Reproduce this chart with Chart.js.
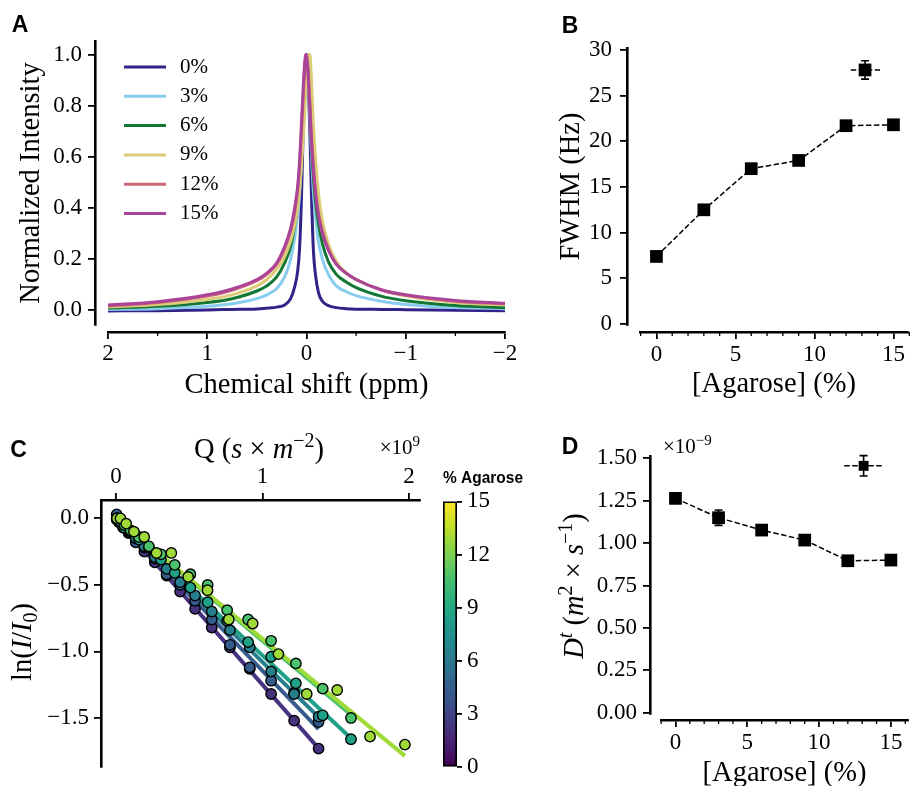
<!DOCTYPE html>
<html><head><meta charset="utf-8">
<script src="https://cdn.jsdelivr.net/npm/chart.js@4.4.1/dist/chart.umd.min.js"></script>
<style>
html,body{margin:0;padding:0;background:#fff;}
#wrap{position:relative;width:917px;height:786px;overflow:hidden;background:#fff;}
canvas{position:absolute;}
</style></head><body>
<div id="wrap">
<canvas id="cA" width="540" height="410" style="left:0px;top:0px"></canvas>
<canvas id="cB" width="377" height="410" style="left:540px;top:0px"></canvas>
<canvas id="cC" width="430" height="356" style="left:0px;top:430px"></canvas>
<canvas id="cCB" width="110" height="326" style="left:413px;top:460px"></canvas>
<canvas id="cD" width="377" height="356" style="left:540px;top:430px"></canvas>
</div>
<script>
const SERIF = "'Liberation Serif', 'Times New Roman', serif";
const SANS = "'Liberation Sans', Arial, sans-serif";

// ---------- Panel A: 1H spectra ----------
const ppm = [2, 1.5, 1.0, 0.75, 0.5, 0.4, 0.3, 0.22, 0.16, 0.12, 0.09, 0.07, 0.05, 0.035, 0.02, 0.01, 0, -0.01, -0.02, -0.035, -0.05, -0.07, -0.09, -0.12, -0.16, -0.22, -0.3, -0.4, -0.5, -0.75, -1.0, -1.5, -2];
const spectraLabels = ['0%', '3%', '6%', '9%', '12%', '15%'];
const int0  = [-0.003, -0.002, 0.001, 0.003, 0.005, 0.008, 0.012, 0.02, 0.045, 0.09, 0.15, 0.24, 0.45, 0.68, 0.87, 0.96, 1.0, 0.97, 0.88, 0.68, 0.45, 0.23, 0.14, 0.07, 0.035, 0.018, 0.01, 0.006, 0.004, 0.003, 0.002, 0.0, -0.002];
const int3  = [0.003, 0.006, 0.015, 0.025, 0.045, 0.06, 0.085, 0.13, 0.2, 0.28, 0.37, 0.45, 0.6, 0.74, 0.88, 0.96, 1.0, 0.97, 0.89, 0.75, 0.61, 0.46, 0.37, 0.27, 0.2, 0.14, 0.095, 0.072, 0.057, 0.035, 0.022, 0.01, 0.006];
const int6  = [0.008, 0.015, 0.03, 0.045, 0.075, 0.095, 0.13, 0.185, 0.25, 0.33, 0.42, 0.52, 0.65, 0.78, 0.9, 0.97, 1.0, 0.98, 0.91, 0.79, 0.66, 0.52, 0.43, 0.34, 0.26, 0.19, 0.14, 0.11, 0.088, 0.055, 0.037, 0.018, 0.01];
const int9  = [0.012, 0.022, 0.042, 0.06, 0.095, 0.12, 0.16, 0.21, 0.27, 0.33, 0.4, 0.47, 0.57, 0.66, 0.76, 0.83, 0.9, 0.95, 0.99, 1.0, 0.9, 0.72, 0.6, 0.46, 0.35, 0.26, 0.19, 0.145, 0.12, 0.08, 0.056, 0.03, 0.02];
const int12 = [0.016, 0.03, 0.055, 0.078, 0.115, 0.14, 0.18, 0.24, 0.31, 0.38, 0.47, 0.56, 0.7, 0.82, 0.93, 0.98, 1.0, 0.97, 0.92, 0.8, 0.68, 0.56, 0.47, 0.38, 0.31, 0.24, 0.18, 0.145, 0.12, 0.08, 0.058, 0.035, 0.025];
const int15 = [0.02, 0.033, 0.06, 0.083, 0.12, 0.145, 0.185, 0.25, 0.32, 0.4, 0.48, 0.58, 0.74, 0.86, 0.96, 1.0, 0.99, 0.95, 0.89, 0.78, 0.66, 0.55, 0.46, 0.37, 0.3, 0.235, 0.18, 0.145, 0.12, 0.08, 0.06, 0.038, 0.027];
const spectraColors = ['#332288', '#88CCEE', '#117733', '#DDCC77', '#CC6677', '#AA4499'];
const ticksAx = [2, 1, 0, -1, -2];
const minorAx = [1.5, 0.5, -0.5, -1.5];
const ticksAy = [0, 0.2, 0.4, 0.6, 0.8, 1.0];

// ---------- Panel B: FWHM ----------
const agarose = [0, 3, 6, 9, 12, 15];
const fwhm = [7.4, 12.5, 17.0, 17.9, 21.7, 21.8];
const fwhmErr = [0.15, 0.3, 0.25, 0.25, 0.3, 0.25];
const keyBLineX = [12.3, 14.15];
const keyBX = [13.2];
const keyBY = [27.8];
const keyBErr = [1.0];
const ticksBy = [0, 5, 10, 15, 20, 25, 30];
const ticksAgarose = [0, 5, 10, 15];
const minorAgarose = [-1, 1, 2, 3, 4, 6, 7, 8, 9, 11, 12, 13, 14, 16];

// ---------- Panel C: diffusion decays (Q in 1e9 s/m^2) ----------
const qGrid0 = [0.005, 0.022, 0.049, 0.086, 0.135, 0.194, 0.265, 0.346, 0.438, 0.540, 0.654, 0.778, 0.913, 1.059, 1.216, 1.383];
const qGrid9 = [0.006, 0.026, 0.057, 0.100, 0.157, 0.225, 0.307, 0.401, 0.508, 0.626, 0.759, 0.902, 1.059, 1.228, 1.411, 1.604];
const qGrid15 = [0.007, 0.031, 0.070, 0.123, 0.193, 0.277, 0.378, 0.493, 0.625, 0.770, 0.933, 1.109, 1.302, 1.510, 1.734, 1.972];
const lnI0  = [-0.01, -0.03, -0.06, -0.11, -0.17, -0.25, -0.33, -0.43, -0.55, -0.68, -0.82, -0.97, -1.13, -1.32, -1.52, -1.73];
const lnI3  = [0.03, -0.02, -0.06, -0.10, -0.18, -0.22, -0.30, -0.42, -0.50, -0.62, -0.76, -0.95, -1.12, -1.22, -1.31, -1.53];
const lnI6  = [0.0, -0.02, -0.07, -0.09, -0.15, -0.21, -0.29, -0.38, -0.48, -0.58, -0.70, -0.84, -0.97, -1.15, -1.32, -1.49];
const lnI9  = [0.0, -0.03, -0.07, -0.10, -0.16, -0.22, -0.31, -0.41, -0.52, -0.63, -0.77, -0.93, -1.04, -1.24, -1.48, -1.66];
const lnI12 = [0.0, -0.02, -0.05, -0.09, -0.14, -0.21, -0.27, -0.35, -0.42, -0.50, -0.69, -0.76, -0.92, -1.09, -1.28, -1.50];
const lnI15 = [0.0, 0.0, -0.04, -0.10, -0.14, -0.26, -0.26, -0.44, -0.54, -0.76, -0.79, -1.02, -1.32, -1.29, -1.64, -1.70];
const fitSlope = [-1.25, -1.145, -1.08, -1.03, -0.92, -0.905];
const seriesColorsC = ['#46327e', '#365c8d', '#277f8e', '#1fa187', '#4ac16d', '#a0da39'];
const ticksCx = [0, 1, 2];
const ticksCy = [0, -0.5, -1.0, -1.5];
const ticksCbar = [0, 3, 6, 9, 12, 15];
const viridis = ['#440154', '#482475', '#414487', '#355f8d', '#2a788e', '#21918c', '#22a884', '#44bf70', '#7ad151', '#bddf26', '#fde725'];

// ---------- Panel D: diffusion coefficients (1e-9 m^2/s) ----------
const diffCoef = [1.264, 1.150, 1.077, 1.018, 0.896, 0.900];
const diffErr = [0.012, 0.045, 0.02, 0.015, 0.015, 0.012];
const keyDLineX = [11.75, 14.37];
const keyDX = [13.1];
const keyDY = [1.456];
const keyDErr = [0.06];
const ticksDy = [0, 0.25, 0.5, 0.75, 1.0, 1.25, 1.5];

// ---------- Texts ----------
const titleQ = [{t: 'Q ('}, {t: 's', i: 1}, {t: ' × '}, {t: 'm', i: 1}, {t: '−2', sup: 1}, {t: ')'}];
const titleLn = [{t: 'ln('}, {t: 'I', i: 1}, {t: '/'}, {t: 'I', i: 1}, {t: '0', sub: 1}, {t: ')'}];
const titleDt = [{t: 'D', i: 1}, {t: 't', i: 1, sup: 1}, {t: ' ('}, {t: 'm', i: 1}, {t: '2', sup: 1}, {t: ' × '}, {t: 's', i: 1}, {t: '−1', sup: 1}, {t: ')'}];
const offsetC = [{t: '×10'}, {t: '9', sup: 1}];
const offsetD = [{t: '×10'}, {t: '−9', sup: 1}];

// ---------- helpers / plugins ----------
const minus = v => (v < 0 ? '−' + Math.abs(v) : String(v));
function drawRich(ctx, it) {
  const size = it.size, fam = it.family || SERIF, w = it.weight || '';
  const fontOf = s => `${s.i ? 'italic ' : ''}${w ? w + ' ' : ''}${(s.sup || s.sub) ? Math.round(size * 0.7) : size}px ${fam}`;
  ctx.save();
  ctx.translate(it.x, it.y);
  if (it.rot) ctx.rotate(it.rot);
  let total = 0;
  const ws = it.segs.map(s => { ctx.font = fontOf(s); const m = ctx.measureText(s.t).width; total += m; return m; });
  let cx = it.align === 'left' ? 0 : it.align === 'right' ? -total : -total / 2;
  ctx.fillStyle = '#000';
  ctx.textBaseline = it.baseline || 'alphabetic';
  ctx.textAlign = 'left';
  it.segs.forEach((s, k) => {
    ctx.font = fontOf(s);
    const dy = s.sup ? -size * 0.4 : (s.sub ? size * 0.22 : 0);
    ctx.fillText(s.t, cx, dy);
    cx += ws[k];
  });
  ctx.restore();
}
const spineShift = {
  id: 'spineShift',
  afterLayout(chart, args, o) {
    if (o.y) { const s = chart.scales.y; s.left -= o.y; s.right -= o.y; }
    if (o.x) { const s = chart.scales.x; s.top += o.x; s.bottom += o.x; }
  }
};
const minorTicks = {
  id: 'minorTicks',
  afterDraw(chart, args, o) {
    if (!o.values) return;
    const s = chart.scales.x, ctx = chart.ctx;
    ctx.save(); ctx.strokeStyle = '#000'; ctx.lineWidth = 1.3;
    o.values.forEach(v => {
      const px = s.getPixelForValue(v);
      ctx.beginPath(); ctx.moveTo(px, s.top); ctx.lineTo(px, s.top + o.len); ctx.stroke();
    });
    ctx.restore();
  }
};
const errorBars = {
  id: 'errorBars',
  afterDatasetsDraw(chart) {
    const ctx = chart.ctx, xs = chart.scales.x, ys = chart.scales.y;
    chart.data.datasets.forEach(ds => {
      if (!ds.errY) return;
      ctx.save(); ctx.strokeStyle = '#000'; ctx.lineWidth = 1.6;
      ds.data.forEach((p, j) => {
        const e = ds.errY[j]; if (!e) return;
        const x = xs.getPixelForValue(p.x), y1 = ys.getPixelForValue(p.y - e), y2 = ys.getPixelForValue(p.y + e);
        const c = 4;
        ctx.beginPath();
        ctx.moveTo(x, y1); ctx.lineTo(x, y2);
        ctx.moveTo(x - c, y1); ctx.lineTo(x + c, y1);
        ctx.moveTo(x - c, y2); ctx.lineTo(x + c, y2);
        ctx.stroke();
      });
      ctx.restore();
    });
  }
};
const richText = {
  id: 'richText',
  afterDraw(chart, args, o) { (o.items || []).forEach(it => drawRich(chart.ctx, it)); }
};
const legendA = {
  id: 'legendA',
  afterDraw(chart, args, o) {
    const ctx = chart.ctx;
    ctx.save();
    chart.data.datasets.forEach((ds, i) => {
      const y = o.y0 + i * o.dy;
      ctx.strokeStyle = ds.borderColor; ctx.lineWidth = 3;
      ctx.beginPath(); ctx.moveTo(o.x0, y); ctx.lineTo(o.x1, y); ctx.stroke();
      ctx.fillStyle = '#000'; ctx.font = `21px ${SERIF}`;
      ctx.textBaseline = 'middle'; ctx.textAlign = 'left';
      ctx.fillText(ds.label, o.tx, y);
    });
    ctx.restore();
  }
};
const common = { animation: false, responsive: false, events: [] };
const basePlugins = { legend: { display: false }, tooltip: { enabled: false } };
const tickFont = { family: SERIF, size: 23 };
const titleFont = { family: SERIF, size: 28.5 };
const grid = { drawOnChartArea: false, drawTicks: true, tickLength: 7, color: '#000', lineWidth: 1.8 };
const border = { display: true, color: '#000', width: 2.6 };
const setTicks = arr => (s => { s.ticks = arr.map(v => ({ value: v })); });
const letterSize = 23;

// ---------- Chart A ----------
const spectra = [int0, int3, int6, int9, int12, int15];
new Chart(document.getElementById('cA'), {
  type: 'line',
  data: {
    datasets: spectra.map((arr, i) => ({
      label: spectraLabels[i],
      data: ppm.map((x, j) => ({ x: x, y: arr[j] })),
      borderColor: spectraColors[i], borderWidth: 3, pointRadius: 0,
      cubicInterpolationMode: 'monotone', fill: false, order: 5 - i
    }))
  },
  options: {
    ...common,
    layout: { padding: { left: 0, top: 41, right: 35, bottom: 0 } },
    plugins: {
      ...basePlugins,
      spineShift: { y: 13, x: 7 },
      minorTicks: { values: minorAx, len: 4 },
      legendA: { x0: 124, x1: 166, tx: 180, y0: 67, dy: 29.3 },
      richText: { items: [{ segs: [{ t: 'A' }], x: 20, y: 26, size: letterSize, family: SANS, weight: 'bold', baseline: 'middle' }] }
    },
    scales: {
      x: {
        type: 'linear', reverse: true, min: -2, max: 2,
        afterFit(s) { s.height = 85; s.paddingLeft = 0; s.paddingRight = 0; },
        afterBuildTicks: setTicks(ticksAx),
        ticks: { callback: v => minus(v), font: tickFont, color: '#000', padding: 0.8, maxRotation: 0, autoSkip: false },
        grid: grid, border: border,
        title: { display: true, text: 'Chemical shift (ppm)', font: titleFont, color: '#000', padding: { top: 0, bottom: 13.9 } }
      },
      y: {
        type: 'linear', min: -0.058, max: 1.053,
        afterFit(s) { s.width = 108; },
        afterBuildTicks: setTicks(ticksAy),
        ticks: { callback: v => v.toFixed(1), font: tickFont, color: '#000', padding: 6, autoSkip: false },
        grid: grid, border: border,
        title: { display: true, text: 'Normalized Intensity', font: titleFont, color: '#000', padding: { top: 27.9, bottom: 0 } }
      }
    }
  },
  plugins: [spineShift, minorTicks, richText, legendA]
});

// ---------- Chart B ----------
new Chart(document.getElementById('cB'), {
  type: 'line',
  data: {
    datasets: [
      { data: agarose.map((x, i) => ({ x: x, y: fwhm[i] })), errY: fwhmErr, borderColor: '#000', borderWidth: 1.5, borderDash: [5.5, 2.5],
        pointStyle: 'rect', pointRadius: 9, pointBackgroundColor: '#000', pointBorderWidth: 0 },
      { data: keyBLineX.map(x => ({ x: x, y: keyBY[0] })), borderColor: '#000', borderWidth: 1.5, borderDash: [5.5, 2.5], pointRadius: 0 },
      { data: keyBX.map((x, i) => ({ x: x, y: keyBY[i] })), errY: keyBErr, showLine: false,
        pointStyle: 'rect', pointRadius: 9, pointBackgroundColor: '#000', pointBorderWidth: 0 }
    ]
  },
  options: {
    ...common,
    layout: { padding: { left: 0, top: 48, right: 0, bottom: 0 } },
    plugins: {
      ...basePlugins,
      spineShift: { y: 13, x: 7 },
      minorTicks: { values: minorAgarose, len: 4 },
      richText: { items: [{ segs: [{ t: 'B' }], x: 30, y: 27, size: letterSize, family: SANS, weight: 'bold', baseline: 'middle' }] }
    },
    scales: {
      x: {
        type: 'linear', min: -1.04, max: 15.92,
        afterFit(s) { s.height = 85; s.paddingLeft = 0; s.paddingRight = 0; },
        afterBuildTicks: setTicks(ticksAgarose),
        ticks: { font: tickFont, color: '#000', padding: 1.8, maxRotation: 0, autoSkip: false },
        grid: grid, border: border,
        title: { display: true, text: '[Agarose] (%)', font: titleFont, color: '#000', padding: { top: 0, bottom: 15.4 } }
      },
      y: {
        type: 'linear', min: -0.1, max: 30.2,
        afterFit(s) { s.width = 100; },
        afterBuildTicks: setTicks(ticksBy),
        ticks: { font: tickFont, color: '#000', padding: 8, autoSkip: false },
        grid: grid, border: border,
        title: { display: true, text: 'FWHM (Hz)', font: titleFont, color: '#000', padding: { top: 27.9, bottom: 0 } }
      }
    }
  },
  plugins: [spineShift, minorTicks, errorBars, richText]
});

// ---------- Chart C ----------
const qGrids = [qGrid0, qGrid0, qGrid0, qGrid9, qGrid9, qGrid15];
const lnSets = [lnI0, lnI3, lnI6, lnI9, lnI12, lnI15];
const cLines = qGrids.map((g, i) => {
  const qEnd = g[g.length - 1];
  return { data: [{ x: 0, y: 0 }, { x: qEnd, y: fitSlope[i] * qEnd }], borderColor: seriesColorsC[i], borderWidth: 4,
    pointRadius: 0, order: 20 - i };
});
const cPoints = qGrids.map((g, i) => ({
  data: g.map((q, j) => ({ x: q, y: lnSets[i][j] })), showLine: false,
  pointRadius: 5.2, pointBackgroundColor: seriesColorsC[i], pointBorderColor: '#000', pointBorderWidth: 1.4, order: 10 - i
}));
new Chart(document.getElementById('cC'), {
  type: 'line',
  data: { datasets: [...cLines, ...cPoints] },
  options: {
    ...common,
    layout: { padding: { left: 0, top: 0, right: 10, bottom: 9 } },
    plugins: {
      ...basePlugins,
      richText: { items: [
        { segs: [{ t: 'C' }], x: 18.5, y: 21, size: letterSize, family: SANS, weight: 'bold', baseline: 'middle' },
        { segs: titleQ, x: 259, y: 28, size: 28.5 },
        { segs: titleLn, x: 31, y: 212, size: 28.5, rot: -Math.PI / 2 },
        { segs: offsetC, x: 420, y: 24, size: 21, align: 'right' }
      ] }
    },
    scales: {
      x: {
        type: 'linear', position: 'top', min: -0.102, max: 2.075,
        afterFit(s) { s.height = 70; s.paddingLeft = 0; s.paddingRight = 0; },
        afterBuildTicks: setTicks(ticksCx),
        ticks: { font: tickFont, color: '#000', padding: 2.5, maxRotation: 0, autoSkip: false },
        grid: grid, border: border
      },
      y: {
        type: 'linear', min: -1.87, max: 0.138,
        afterFit(s) { s.width = 101; },
        afterBuildTicks: setTicks(ticksCy),
        ticks: { callback: v => (v < 0 ? '−' : '') + Math.abs(v).toFixed(1), font: tickFont, color: '#000', padding: 5, autoSkip: false },
        grid: grid, border: border
      }
    }
  },
  plugins: [richText]
});

// ---------- Colorbar ----------
new Chart(document.getElementById('cCB'), {
  type: 'bar',
  data: {
    labels: [''],
    datasets: [{
      data: [[ticksCbar[0], ticksCbar[ticksCbar.length - 1]]],
      backgroundColor(ctx) {
        const a = ctx.chart.chartArea;
        if (!a) return '#21918c';
        const g = ctx.chart.ctx.createLinearGradient(0, a.bottom, 0, a.top);
        viridis.forEach((c, i) => g.addColorStop(i / (viridis.length - 1), c));
        return g;
      },
      borderColor: '#000', borderWidth: 2, borderSkipped: false,
      barPercentage: 1, categoryPercentage: 1
    }]
  },
  options: {
    ...common,
    layout: { padding: { left: 30, top: 0, right: 0, bottom: 13 } },
    plugins: {
      ...basePlugins,
      title: { display: true, text: '% Agarose', font: { family: SANS, size: 17, weight: 'bold' }, color: '#000', padding: { top: 8, bottom: 13 } }
    },
    scales: {
      x: { display: false },
      y: {
        position: 'right', min: 0, max: 15,
        afterFit(s) { s.width = 66; },
        afterBuildTicks: setTicks(ticksCbar),
        ticks: { font: tickFont, color: '#000', padding: 5, autoSkip: false },
        grid: { drawOnChartArea: false, drawTicks: true, tickLength: 5, color: '#000', lineWidth: 1.8 },
        border: { display: false }
      }
    }
  }
});

// ---------- Chart D ----------
new Chart(document.getElementById('cD'), {
  type: 'line',
  data: {
    datasets: [
      { data: agarose.map((x, i) => ({ x: x, y: diffCoef[i] })), errY: diffErr, borderColor: '#000', borderWidth: 1.5, borderDash: [5.5, 2.5],
        pointStyle: 'rect', pointRadius: 9, pointBackgroundColor: '#000', pointBorderWidth: 0 },
      { data: keyDLineX.map(x => ({ x: x, y: keyDY[0] })), borderColor: '#000', borderWidth: 1.5, borderDash: [5.5, 2.5], pointRadius: 0 },
      { data: keyDX.map((x, i) => ({ x: x, y: keyDY[i] })), errY: keyDErr, showLine: false,
        pointStyle: 'rect', pointRadius: 7, pointBackgroundColor: '#000', pointBorderWidth: 0 }
    ]
  },
  options: {
    ...common,
    layout: { padding: { left: 0, top: 26, right: 0, bottom: 0 } },
    plugins: {
      ...basePlugins,
      spineShift: { y: 11, x: 6 },
      minorTicks: { values: minorAgarose, len: 4 },
      richText: { items: [
        { segs: [{ t: 'D' }], x: 30, y: 17.5, size: letterSize, family: SANS, weight: 'bold', baseline: 'middle' },
        { segs: titleDt, x: 43, y: 156, size: 28.5, rot: -Math.PI / 2 },
        { segs: offsetD, x: 123, y: 23, size: 21, align: 'left' }
      ] }
    },
    scales: {
      x: {
        type: 'linear', min: -1.007, max: 16.19,
        afterFit(s) { s.height = 72; s.paddingLeft = 0; s.paddingRight = 0; },
        afterBuildTicks: setTicks(ticksAgarose),
        ticks: { font: tickFont, color: '#000', padding: 1.8, maxRotation: 0, autoSkip: false },
        grid: grid, border: border,
        title: { display: true, text: '[Agarose] (%)', font: titleFont, color: '#000', padding: { top: 0, bottom: 0.9 } }
      },
      y: {
        type: 'linear', min: -0.008, max: 1.514,
        afterFit(s) { s.width = 121; },
        afterBuildTicks: setTicks(ticksDy),
        ticks: { callback: v => v.toFixed(2), font: tickFont, color: '#000', padding: 6, autoSkip: false },
        grid: grid, border: border
      }
    }
  },
  plugins: [spineShift, minorTicks, errorBars, richText]
});
</script>
</body></html>
